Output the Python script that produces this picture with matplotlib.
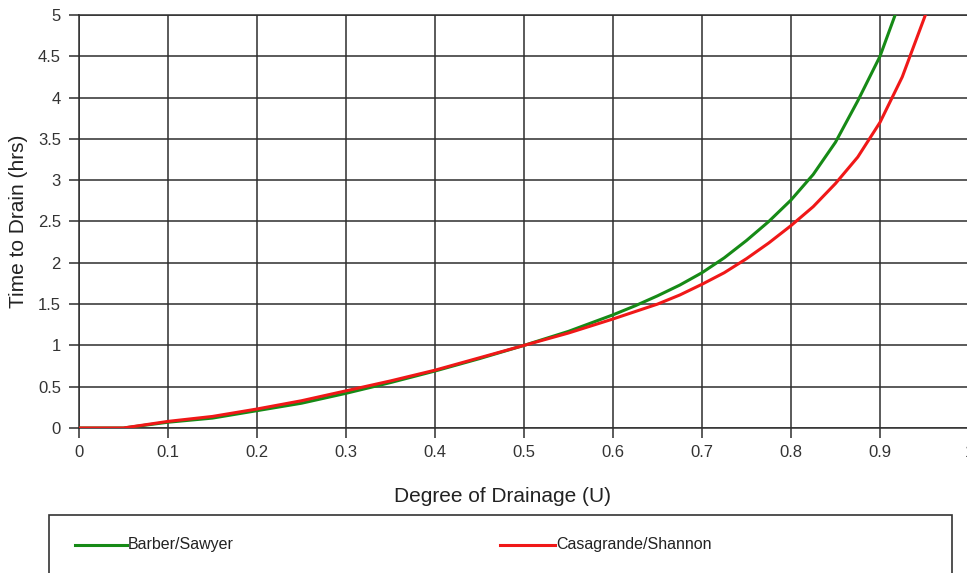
import matplotlib.pyplot as plt
from matplotlib.lines import Line2D
from matplotlib.patches import Rectangle

plt.rcParams['font.family'] = ['Liberation Sans', 'DejaVu Sans']

# Degree of drainage (U) vs time to drain (hrs)
u_barber = [0, 0.05, 0.1, 0.15, 0.2, 0.25, 0.3, 0.35, 0.4, 0.45, 0.5, 0.55, 0.6, 0.625,
            0.65, 0.675, 0.7, 0.725, 0.75, 0.775, 0.8, 0.825, 0.85, 0.875, 0.9, 0.917]
t_barber = [0, 0.0, 0.07, 0.12, 0.21, 0.3, 0.42, 0.55, 0.69, 0.84, 1.0, 1.17, 1.37, 1.48,
            1.6, 1.73, 1.88, 2.06, 2.27, 2.5, 2.76, 3.07, 3.46, 3.96, 4.5, 5.0]

u_casa = [0, 0.05, 0.1, 0.15, 0.2, 0.25, 0.3, 0.35, 0.4, 0.45, 0.5, 0.55, 0.6, 0.625,
          0.65, 0.675, 0.7, 0.725, 0.75, 0.775, 0.8, 0.825, 0.85, 0.875, 0.9, 0.925, 0.951]
t_casa = [0, 0.0, 0.08, 0.14, 0.23, 0.33, 0.45, 0.57, 0.7, 0.85, 1.0, 1.15, 1.32, 1.41,
          1.5, 1.61, 1.74, 1.88, 2.05, 2.24, 2.45, 2.68, 2.96, 3.28, 3.7, 4.25, 5.0]

x_ticks = [0, 0.1, 0.2, 0.3, 0.4, 0.5, 0.6, 0.7, 0.8, 0.9, 1.0]
x_labels = ['0', '0.1', '0.2', '0.3', '0.4', '0.5', '0.6', '0.7', '0.8', '0.9', '1']
y_ticks = [0, 0.5, 1, 1.5, 2, 2.5, 3, 3.5, 4, 4.5, 5]
y_labels = ['0', '0.5', '1', '1.5', '2', '2.5', '3', '3.5', '4', '4.5', '5']

W, H = 967, 573
fig = plt.figure(figsize=(W / 100, H / 100), dpi=100)
ax = fig.add_axes([79 / W, (H - 428) / H, 890 / W, 413 / H])

green = '#168a16'
red = '#f01818'
grid_c = '#2e2e2e'

ax.plot(u_barber, t_barber, color=green, lw=2.2, label='Barber/Sawyer', zorder=3)
ax.plot(u_casa, t_casa, color=red, lw=2.2, label='Casagrande/Shannon', zorder=3)

ax.set_xlim(0, 1)
ax.set_ylim(0, 5)
ax.set_xticks(x_ticks)
ax.set_xticklabels(x_labels)
ax.set_yticks(y_ticks)
ax.set_yticklabels(y_labels)
ax.grid(True, color=grid_c, lw=1.1)
ax.tick_params(direction='out', length=7, width=1.1, color=grid_c, labelsize=12,
               labelcolor='#333333')
ax.tick_params(axis='y', pad=6)
ax.tick_params(axis='x', pad=5)
for s in ax.spines.values():
    s.set_color(grid_c)
    s.set_linewidth(1.1)

fig.text(502 / W, (H - 497) / H, 'Degree of Drainage (U)', ha='center', va='center',
         fontsize=15, color='#222222')
fig.text(19 / W, (H - 221) / H, 'Time to Drain (hrs)', ha='center', va='center',
         rotation=90, fontsize=15, color='#222222')

# legend box at the bottom
fig.patches.append(Rectangle((49 / W, -0.05), (952 - 49) / W, (H - 515) / H + 0.05,
                             transform=fig.transFigure, fill=False,
                             edgecolor='#333333', lw=1.2))
ly = (H - 545) / H
fig.lines.append(Line2D([75 / W, 127 / W], [ly, ly], transform=fig.transFigure,
                        color=green, lw=2.2))
fig.text(128 / W, ly, 'Barber/Sawyer', ha='left', va='center', fontsize=11.5,
         color='#222222')
fig.lines.append(Line2D([500 / W, 555 / W], [ly, ly], transform=fig.transFigure,
                        color=red, lw=2.2))
fig.text(556 / W, ly, 'Casagrande/Shannon', ha='left', va='center', fontsize=11.5,
         color='#222222')

fig.savefig('out.png', dpi=100)
plt.close()
